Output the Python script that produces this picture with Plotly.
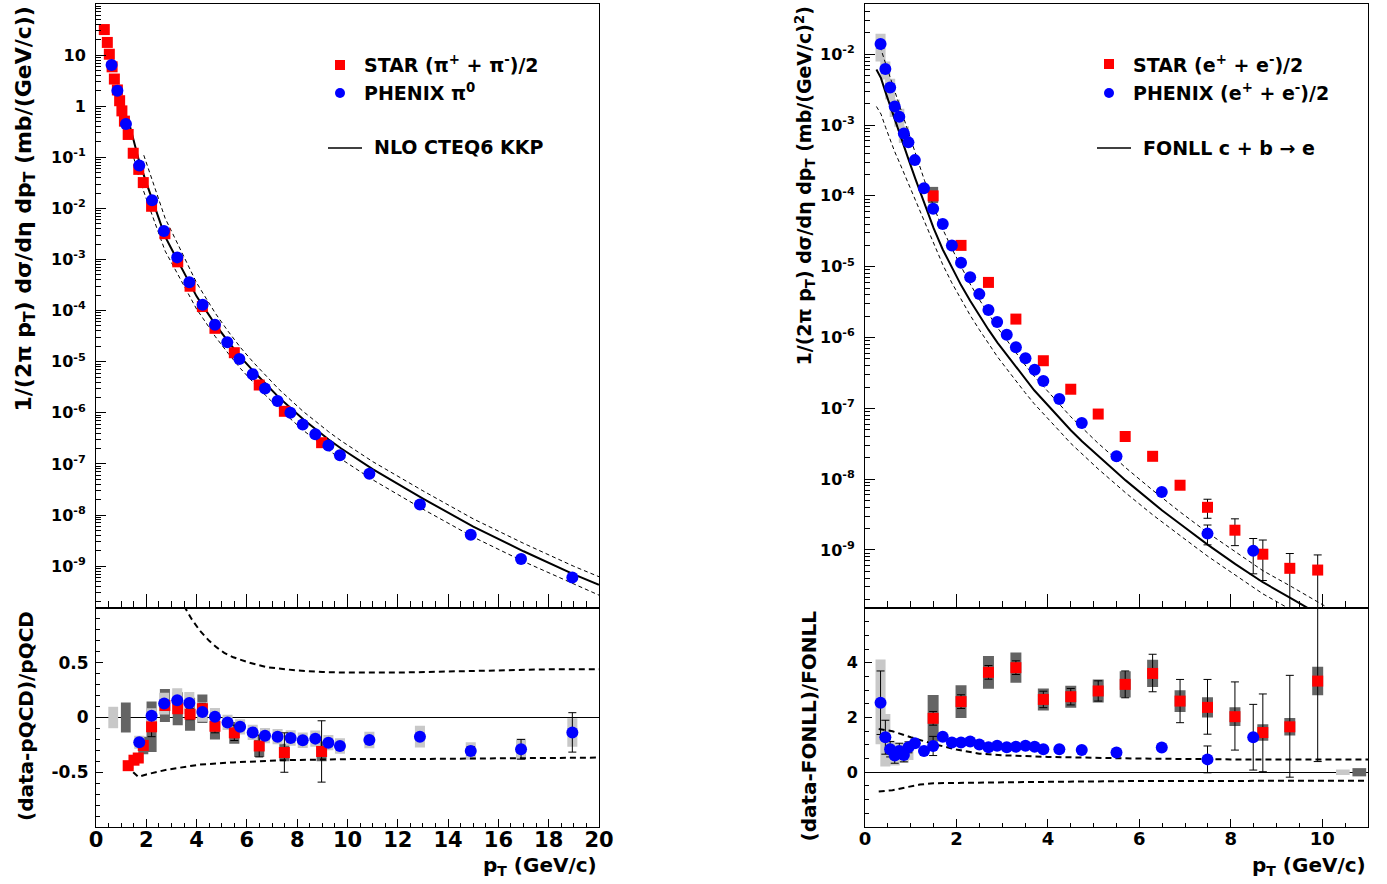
import plotly.graph_objects as go

# ================= DATA =================
# ---- Left: pions ----
star_pi_pt = [0.33, 0.45, 0.53, 0.64, 0.73, 0.85, 0.94, 1.03, 1.13, 1.28, 1.48, 1.70, 1.88, 2.21,
              2.74, 3.25, 3.74, 4.23, 4.73, 5.50, 6.49, 7.49, 8.97]
star_pi_y = [31.6, 17.7, 10.4, 5.9, 3.4, 2.08, 1.28, 0.81, 0.51, 0.28, 0.12, 0.058, 0.032, 0.011,
             3.2e-3, 9.0e-4, 3.0e-4, 1.2e-4, 4.5e-5, 1.5e-5, 3.5e-6, 1.07e-6, 2.6e-7]

phenix_pi_pt = [0.62, 0.85, 1.19, 1.72, 2.23, 2.70, 3.23, 3.71, 4.24, 4.73, 5.22, 5.70, 6.23, 6.72,
                7.22, 7.73, 8.22, 8.72, 9.24, 9.70, 10.87, 12.88, 14.90, 16.90, 18.94]
phenix_pi_y = [6.4, 2.0, 0.45, 0.069, 0.0145, 3.6e-3, 1.1e-3, 3.6e-4, 1.3e-4, 5.3e-5, 2.4e-5,
               1.13e-5, 5.7e-6, 3.0e-6, 1.7e-6, 1.0e-6, 5.9e-7, 3.8e-7, 2.3e-7, 1.48e-7, 6.4e-8,
               1.6e-8, 4.1e-9, 1.37e-9, 6.0e-10]

nlo_pt = [1.3, 1.5, 1.7, 2.0, 2.25, 2.5, 2.75, 3.0, 3.25, 3.5, 3.75, 4.0, 4.25, 4.75, 5.25, 5.75,
          6.25, 6.75, 7.25, 7.75, 8.25, 8.75, 9.25, 9.75, 11, 13, 15, 17, 19, 20]
nlo_y = [5.0e-1, 1.97e-1, 8.9e-2, 3.2e-2, 1.4e-2, 6.5e-3, 2.8e-3, 1.62e-3, 9.5e-4, 5.4e-4, 3.2e-4,
         1.9e-4, 1.24e-4, 5.3e-5, 2.5e-5, 1.23e-5, 6.6e-6, 3.6e-6, 2.05e-6, 1.23e-6, 7.4e-7, 4.7e-7,
         3.0e-7, 2.0e-7, 7.9e-8, 2.1e-8, 5.9e-9, 1.95e-9, 6.9e-10, 4.3e-10]
nlo_up_pt = [1.9, 2.25, 2.5, 2.75, 3.0, 3.25, 3.5, 3.75, 4.0, 4.25, 4.75, 5.25, 5.75, 6.25, 6.75,
             7.25, 7.75, 8.25, 8.75, 9.25, 9.75, 11, 13, 15, 17, 19, 20]
nlo_up_y = [1.1e-1, 3.5e-2, 1.5e-2, 6.4e-3, 3.6e-3, 2.0e-3, 1.09e-3, 6.1e-4, 3.5e-4, 2.2e-4, 8.8e-5,
            3.95e-5, 1.88e-5, 9.8e-6, 5.3e-6, 2.96e-6, 1.76e-6, 1.05e-6, 6.7e-7, 4.25e-7, 2.82e-7,
            1.11e-7, 2.97e-8, 8.4e-9, 2.79e-9, 9.9e-10, 6.2e-10]
nlo_lo_pt = [1.5, 1.7, 2.0, 2.25, 2.5, 2.75, 3.0, 3.25, 3.5, 3.75, 4.0, 4.25, 4.75, 5.25, 5.75, 6.25,
             6.75, 7.25, 7.75, 8.25, 8.75, 9.25, 9.75, 11, 13, 15, 17, 19, 20]
nlo_lo_y = [9.9e-2, 4.1e-2, 1.54e-2, 6.9e-3, 3.3e-3, 1.46e-3, 8.7e-4, 5.2e-4, 3.0e-4, 1.79e-4, 1.07e-4,
            7.1e-5, 3.07e-5, 1.47e-5, 7.3e-6, 3.96e-6, 2.17e-6, 1.25e-6, 7.5e-7, 4.5e-7, 2.9e-7,
            1.85e-7, 1.24e-7, 4.9e-8, 1.3e-8, 3.7e-9, 1.23e-9, 4.4e-10, 2.7e-10]

# ratio (data-pQCD)/pQCD
star_pi_r_pt = [1.28, 1.51, 1.68, 1.88, 2.21, 2.74, 3.25, 3.74, 4.23, 4.73, 5.50, 6.49, 7.49, 8.97]
star_pi_r = [-0.44, -0.39, -0.37, -0.255, -0.085, 0.11, 0.08, 0.03, 0.08, -0.08, -0.14, -0.26, -0.32, -0.31]
star_pi_r_sys = [0.03, 0.03, 0.04, 0.08, 0.23, 0.15, 0.15, 0.15, 0.13, 0.12, 0.10, 0.10, 0.08, 0.09]
star_pi_r_stat = [0.02, 0.02, 0.02, 0.03, 0.09, 0.04, 0.04, 0.05, 0.05, 0.06, 0.07, 0.10, 0.18, 0.28]

phenix_pi_r_pt = [1.72, 2.21, 2.71, 3.23, 3.71, 4.23, 4.73, 5.23, 5.73, 6.23, 6.72, 7.22, 7.74, 8.22,
                  8.72, 9.24, 9.70, 10.87, 12.88, 14.90, 16.90, 18.94]
phenix_pi_r = [-0.226, 0.015, 0.127, 0.157, 0.132, 0.051, 0.006, -0.045, -0.085, -0.136, -0.166,
               -0.175, -0.187, -0.208, -0.193, -0.23, -0.26, -0.205, -0.175, -0.305, -0.29, -0.136]
phenix_pi_r_sys = [0.06, 0.07, 0.10, 0.11, 0.10, 0.09, 0.08, 0.07, 0.07, 0.07, 0.07, 0.07, 0.07, 0.07,
                   0.075, 0.07, 0.07, 0.075, 0.10, 0.08, 0.095, 0.13]
phenix_pi_r_stat = [0.01, 0.01, 0.01, 0.01, 0.01, 0.01, 0.01, 0.01, 0.01, 0.01, 0.01, 0.01, 0.01, 0.01,
                    0.01, 0.01, 0.01, 0.02, 0.03, 0.04, 0.09, 0.18]

pi_band_up_pt = [3.3, 3.54, 3.8, 4.14, 4.5, 4.8, 5.1, 5.46, 6.1, 6.79, 7.95, 9.0, 10.1, 12, 14, 16, 18, 20]
pi_band_up_r = [1.1, 1.0, 0.9, 0.79, 0.70, 0.64, 0.59, 0.55, 0.50, 0.46, 0.43, 0.415, 0.41, 0.41, 0.42, 0.43, 0.44, 0.44]
pi_band_lo_pt = [1.48, 1.68, 2.0, 2.81, 4.13, 5.46, 7.45, 10.1, 12.1, 16, 20]
pi_band_lo_r = [-0.50, -0.543, -0.52, -0.477, -0.43, -0.41, -0.39, -0.38, -0.38, -0.37, -0.366]

pi_norm_x = [0.685, 1.185]
pi_norm_h = [0.098, 0.137]

# ---- Right: electrons ----
star_e_pt = [1.49, 2.10, 2.70, 3.30, 3.90, 4.50, 5.10, 5.69, 6.29, 6.89, 7.49, 8.09, 8.70, 9.29, 9.90]
star_e_y = [1.0e-4, 2.0e-5, 6.0e-6, 1.82e-6, 4.7e-7, 1.86e-7, 8.3e-8, 4.0e-8, 2.1e-8, 8.2e-9, 4.0e-9,
            1.9e-9, 8.7e-10, 5.5e-10, 5.2e-10]
star_e_err_p = [0, 0, 0, 0, 0, 0, 0, 0, 0, 0, 1.2e-9, 0.85e-9, 5.1e-10, 3.4e-10, 3.3e-10]
star_e_err_m = [0, 0, 0, 0, 0, 0, 0, 0, 0, 0, 1.2e-9, 0.75e-9, 5.0e-10, 4.0e-10, 5.15e-10]
star_e_r = [1.97, 2.58, 3.65, 3.82, 2.66, 2.76, 2.97, 3.21, 3.61, 2.60, 2.37, 2.03, 1.45, 1.66, 3.33]
star_e_r_sys = [0.85, 0.6, 0.6, 0.55, 0.4, 0.4, 0.42, 0.48, 0.5, 0.4, 0.37, 0.34, 0.3, 0.32, 0.52]
star_e_r_sp = [0.25, 0.25, 0.25, 0.25, 0.3, 0.3, 0.37, 0.49, 0.70, 0.79, 1.02, 1.27, 1.41, 1.88, 4.0]
star_e_r_sm = [0.25, 0.25, 0.25, 0.25, 0.3, 0.3, 0.37, 0.49, 0.67, 0.79, 0.98, 1.22, 1.43, 1.84, 2.94]
star_e_box_lo = [7.9e-5]
star_e_box_hi = [1.34e-4]

phenix_e_pt = [0.34, 0.445, 0.55, 0.65, 0.75, 0.85, 0.95, 1.09, 1.29, 1.49, 1.70, 1.90, 2.10, 2.30,
               2.50, 2.70, 2.89, 3.10, 3.30, 3.51, 3.71, 3.90, 4.25, 4.74, 5.50, 6.49, 7.49, 8.49]
phenix_e_y = [1.395e-2, 6.2e-3, 3.4e-3, 1.83e-3, 1.31e-3, 7.6e-4, 5.7e-4, 3.2e-4, 1.28e-4, 6.6e-5,
              4.0e-5, 2.0e-5, 1.14e-5, 7.1e-6, 4.1e-6, 2.45e-6, 1.65e-6, 1.09e-6, 7.3e-7, 5.1e-7,
              3.5e-7, 2.44e-7, 1.35e-7, 6.2e-8, 2.1e-8, 6.6e-9, 1.7e-9, 9.7e-10]
phenix_e_err_p = [0] * 26 + [5.5e-10, 4.8e-10]
phenix_e_err_m = [0] * 26 + [5.2e-10, 5.1e-10]
phenix_e_r = [2.54, 1.28, 0.84, 0.61, 0.78, 0.63, 0.91, 1.06, 0.78, 0.96, 1.30, 1.09, 1.09, 1.12,
              1.01, 0.91, 0.97, 0.91, 0.93, 0.97, 0.93, 0.84, 0.84, 0.81, 0.72, 0.90, 0.47, 1.28]
phenix_e_r_stat = [1.16, 0.62, 0.28, 0.28, 0.28, 0.25, 0.2, 0.1, 0.1, 0.35, 0.05, 0.05, 0.05, 0.05,
                   0.05, 0.05, 0.05, 0.05, 0.05, 0.05, 0.05, 0.05, 0.05, 0.05, 0.05, 0.05, 0.49, 1.2]
phenix_e_box_pt = [0.34, 0.445, 0.55, 0.65, 0.75, 0.85]
phenix_e_box_lo = [7.9e-3, 4.4e-3, 2.3e-3, 1.3e-3, 0.95e-3, 5.6e-4]
phenix_e_box_hi = [1.95e-2, 7.9e-3, 4.5e-3, 2.3e-3, 1.7e-3, 9.6e-4]
phenix_e_rbox_pt = [0.34, 0.445, 0.55, 0.65, 0.75, 0.85, 0.95]
phenix_e_rbox_c = [2.57, 1.17, 0.70, 0.65, 0.70, 0.65, 0.75]
phenix_e_rbox_h = [1.55, 0.96, 0.45, 0.40, 0.35, 0.30, 0.30]

fonll_pt = [0.25, 0.35, 0.45, 0.55, 0.65, 0.75, 0.85, 0.95, 1.1, 1.3, 1.5, 1.7, 1.9, 2.1, 2.3, 2.5,
            2.7, 2.9, 3.1, 3.3, 3.5, 3.7, 3.9, 4.25, 4.5, 4.75, 5.1, 5.5, 5.7, 6.3, 6.5, 6.9, 7.5,
            8.1, 8.5, 8.7, 9.3, 9.9, 10.5]
fonll_y = [6.1e-3, 4.6e-3, 2.9e-3, 1.85e-3, 1.2e-3, 7.8e-4, 5.0e-4, 3.3e-4, 1.75e-4, 7.8e-5, 3.5e-5,
           1.75e-5, 9.6e-6, 5.5e-6, 3.3e-6, 2.05e-6, 1.29e-6, 8.4e-7, 5.7e-7, 3.8e-7, 2.6e-7, 1.8e-7,
           1.3e-7, 7.3e-8, 4.9e-8, 3.4e-8, 2.1e-8, 1.25e-8, 9.6e-9, 4.6e-9, 3.6e-9, 2.3e-9, 1.18e-9,
           6.3e-10, 4.2e-10, 3.5e-10, 2.1e-10, 1.25e-10, 7.5e-11]
fonll_up_y = [1.57e-2, 1.18e-2, 7.4e-3, 4.7e-3, 3.0e-3, 1.9e-3, 1.19e-3, 7.6e-4, 3.9e-4, 1.66e-4,
              7.1e-5, 3.4e-5, 1.8e-5, 9.9e-6, 5.7e-6, 3.44e-6, 2.13e-6, 1.37e-6, 9.2e-7, 6.1e-7,
              4.1e-7, 2.84e-7, 2.03e-7, 1.14e-7, 7.6e-8, 5.3e-8, 3.2e-8, 1.9e-8, 1.45e-8, 6.9e-9,
              5.4e-9, 3.4e-9, 1.74e-9, 9.3e-10, 6.2e-10, 5.1e-10, 3.1e-10, 1.84e-10, 1.1e-10]
fonll_lo_y = [1.83e-3, 1.43e-3, 9.3e-4, 6.1e-4, 4.2e-4, 3.0e-4, 2.1e-4, 1.53e-4, 9.1e-5, 4.4e-5,
              2.1e-5, 1.07e-5, 5.9e-6, 3.4e-6, 2.06e-6, 1.29e-6, 8.2e-7, 5.3e-7, 3.6e-7, 2.43e-7,
              1.67e-7, 1.16e-7, 8.5e-8, 4.8e-8, 3.2e-8, 2.24e-8, 1.39e-8, 8.3e-9, 6.4e-9, 3.1e-9,
              2.46e-9, 1.58e-9, 8.1e-10, 4.35e-10, 2.9e-10, 2.4e-10, 1.45e-10, 8.6e-11, 5.2e-11]

e_band_up_pt = [0.3, 0.6, 1.0, 1.5, 2.0, 2.5, 3.0, 4.0, 5.0, 6.0, 8.0, 11.0]
e_band_up_r = [1.58, 1.50, 1.28, 1.03, 0.83, 0.68, 0.62, 0.56, 0.53, 0.50, 0.47, 0.47]
e_band_lo_pt = [0.3, 0.6, 0.9, 1.2, 1.5, 2.5, 4.0, 6.0, 8.0, 11.0]
e_band_lo_r = [-0.70, -0.66, -0.55, -0.45, -0.40, -0.37, -0.35, -0.32, -0.31, -0.31]

e_norm_x = [10.45, 10.81]
e_norm_h = [0.10, 0.15]

# ================= STYLE =================
FONT = "DejaVu Sans"
RED = "#ff0000"
BLUE = "#0000ff"
LGRAY = "#c8c8c8"
DGRAY = "#646464"
W, H = 1387, 884


def px(x):
    return x / W


def py(y):
    return 1 - y / H


def box_poly(xc, lo, hi, hw):
    xs, ys = [], []
    for x, a, b in zip(xc, lo, hi):
        xs += [x - hw, x + hw, x + hw, x - hw, x - hw, None]
        ys += [a, a, b, b, a, None]
    return xs, ys


def box_trace(xc, lo, hi, hw, color, xa, ya):
    xs, ys = box_poly(xc, lo, hi, hw)
    return go.Scatter(x=xs, y=ys, mode="lines", fill="toself", fillcolor=color,
                      line=dict(width=0, color=color), xaxis=xa, yaxis=ya,
                      hoverinfo="skip", showlegend=False)


fig = go.Figure()

# ---------- Left top ----------
fig.add_trace(go.Scatter(x=nlo_pt, y=nlo_y, mode="lines", line=dict(color="black", width=2),
                         xaxis="x", yaxis="y", showlegend=False))
fig.add_trace(go.Scatter(x=nlo_up_pt, y=nlo_up_y, mode="lines",
                         line=dict(color="black", width=1, dash="4px,3px"), xaxis="x", yaxis="y", showlegend=False))
fig.add_trace(go.Scatter(x=nlo_lo_pt, y=nlo_lo_y, mode="lines",
                         line=dict(color="black", width=1, dash="4px,3px"), xaxis="x", yaxis="y", showlegend=False))
fig.add_trace(go.Scatter(x=star_pi_pt, y=star_pi_y, mode="markers",
                         marker=dict(symbol="square", size=11, color=RED), xaxis="x", yaxis="y", showlegend=False))
fig.add_trace(go.Scatter(x=phenix_pi_pt, y=phenix_pi_y, mode="markers",
                         marker=dict(symbol="circle", size=12, color=BLUE), xaxis="x", yaxis="y", showlegend=False))

# ---------- Left bottom ----------
fig.add_trace(box_trace(pi_norm_x[:1], [-pi_norm_h[0]], [pi_norm_h[0]], 0.195, LGRAY, "x2", "y2"))
fig.add_trace(box_trace(pi_norm_x[1:], [-pi_norm_h[1]], [pi_norm_h[1]], 0.195, DGRAY, "x2", "y2"))
fig.add_trace(box_trace(star_pi_r_pt, [v - s for v, s in zip(star_pi_r, star_pi_r_sys)],
                        [v + s for v, s in zip(star_pi_r, star_pi_r_sys)], 0.2, DGRAY, "x2", "y2"))
fig.add_trace(box_trace(phenix_pi_r_pt, [v - s for v, s in zip(phenix_pi_r, phenix_pi_r_sys)],
                        [v + s for v, s in zip(phenix_pi_r, phenix_pi_r_sys)], 0.2, LGRAY, "x2", "y2"))
fig.add_trace(go.Scatter(x=pi_band_up_pt, y=pi_band_up_r, mode="lines",
                         line=dict(color="black", width=2, dash="6px,4px"), xaxis="x2", yaxis="y2", showlegend=False))
fig.add_trace(go.Scatter(x=pi_band_lo_pt, y=pi_band_lo_r, mode="lines",
                         line=dict(color="black", width=2, dash="6px,4px"), xaxis="x2", yaxis="y2", showlegend=False))
fig.add_trace(go.Scatter(x=star_pi_r_pt, y=star_pi_r, mode="markers",
                         error_y=dict(type="data", array=star_pi_r_stat, color="black", thickness=1, width=4),
                         marker=dict(symbol="square", size=11, color=RED), xaxis="x2", yaxis="y2", showlegend=False))
fig.add_trace(go.Scatter(x=phenix_pi_r_pt, y=phenix_pi_r, mode="markers",
                         error_y=dict(type="data", array=phenix_pi_r_stat, color="black", thickness=1, width=4),
                         marker=dict(symbol="circle", size=12, color=BLUE), xaxis="x2", yaxis="y2", showlegend=False))

# ---------- Right top ----------
fig.add_trace(box_trace(phenix_e_box_pt, phenix_e_box_lo, phenix_e_box_hi, 0.11, LGRAY, "x3", "y3"))
fig.add_trace(box_trace(star_e_pt[:1], star_e_box_lo, star_e_box_hi, 0.11, DGRAY, "x3", "y3"))
fig.add_trace(go.Scatter(x=fonll_pt, y=fonll_y, mode="lines", line=dict(color="black", width=2),
                         xaxis="x3", yaxis="y3", showlegend=False))
fig.add_trace(go.Scatter(x=fonll_pt, y=fonll_up_y, mode="lines",
                         line=dict(color="black", width=1, dash="4px,3px"), xaxis="x3", yaxis="y3", showlegend=False))
fig.add_trace(go.Scatter(x=fonll_pt, y=fonll_lo_y, mode="lines",
                         line=dict(color="black", width=1, dash="4px,3px"), xaxis="x3", yaxis="y3", showlegend=False))
fig.add_trace(go.Scatter(x=star_e_pt, y=star_e_y, mode="markers",
                         error_y=dict(type="data", array=star_e_err_p, arrayminus=star_e_err_m,
                                      color="black", thickness=1, width=4),
                         marker=dict(symbol="square", size=11, color=RED), xaxis="x3", yaxis="y3", showlegend=False))
fig.add_trace(go.Scatter(x=phenix_e_pt, y=phenix_e_y, mode="markers",
                         error_y=dict(type="data", array=phenix_e_err_p, arrayminus=phenix_e_err_m,
                                      color="black", thickness=1, width=4),
                         marker=dict(symbol="circle", size=12, color=BLUE), xaxis="x3", yaxis="y3", showlegend=False))

# ---------- Right bottom ----------
fig.add_trace(box_trace(phenix_e_rbox_pt, [c - h for c, h in zip(phenix_e_rbox_c, phenix_e_rbox_h)],
                        [c + h for c, h in zip(phenix_e_rbox_c, phenix_e_rbox_h)], 0.11, LGRAY, "x4", "y4"))
fig.add_trace(box_trace(star_e_pt, [v - s for v, s in zip(star_e_r, star_e_r_sys)],
                        [v + s for v, s in zip(star_e_r, star_e_r_sys)], 0.12, DGRAY, "x4", "y4"))
fig.add_trace(box_trace(e_norm_x[:1], [-e_norm_h[0]], [e_norm_h[0]], 0.15, LGRAY, "x4", "y4"))
fig.add_trace(box_trace(e_norm_x[1:], [-e_norm_h[1]], [e_norm_h[1]], 0.15, DGRAY, "x4", "y4"))
fig.add_trace(go.Scatter(x=e_band_up_pt, y=e_band_up_r, mode="lines",
                         line=dict(color="black", width=2, dash="6px,4px"), xaxis="x4", yaxis="y4", showlegend=False))
fig.add_trace(go.Scatter(x=e_band_lo_pt, y=e_band_lo_r, mode="lines",
                         line=dict(color="black", width=2, dash="6px,4px"), xaxis="x4", yaxis="y4", showlegend=False))
fig.add_trace(go.Scatter(x=star_e_pt, y=star_e_r, mode="markers",
                         error_y=dict(type="data", array=star_e_r_sp, arrayminus=star_e_r_sm,
                                      color="black", thickness=1, width=4),
                         marker=dict(symbol="square", size=11, color=RED), xaxis="x4", yaxis="y4", showlegend=False))
fig.add_trace(go.Scatter(x=phenix_e_pt, y=phenix_e_r, mode="markers",
                         error_y=dict(type="data", array=phenix_e_r_stat, color="black", thickness=1, width=4),
                         marker=dict(symbol="circle", size=12, color=BLUE), xaxis="x4", yaxis="y4", showlegend=False))

# ================= AXES =================
xL = [px(96), px(599)]
xR = [px(865), px(1368)]
yT = [py(608), py(4)]
yB = [py(827), py(608)]


def axis(**kw):
    d = dict(showline=True, linecolor="black", linewidth=1, mirror=True, ticks="inside",
             tickcolor="black", tickwidth=1, showgrid=False, zeroline=False, automargin=False,
             tickfont=dict(family=FONT, size=16, color="black", weight="bold"))
    d.update(kw)
    return d


log_pi_vals = [1e-9, 1e-8, 1e-7, 1e-6, 1e-5, 1e-4, 1e-3, 1e-2, 1e-1, 1, 10]
log_pi_text = ["10<sup>-9</sup>", "10<sup>-8</sup>", "10<sup>-7</sup>", "10<sup>-6</sup>", "10<sup>-5</sup>",
               "10<sup>-4</sup>", "10<sup>-3</sup>", "10<sup>-2</sup>", "10<sup>-1</sup>", "1", "10"]
log_e_vals = [1e-9, 1e-8, 1e-7, 1e-6, 1e-5, 1e-4, 1e-3, 1e-2]
log_e_text = ["10<sup>-9</sup>", "10<sup>-8</sup>", "10<sup>-7</sup>", "10<sup>-6</sup>", "10<sup>-5</sup>",
              "10<sup>-4</sup>", "10<sup>-3</sup>", "10<sup>-2</sup>"]

minor_x = dict(ticks="inside", dtick=0.5, tick0=0, ticklen=7, tickcolor="black", showgrid=False)
minor_xb = dict(ticks="inside", dtick=0.5, tick0=0, ticklen=4, tickcolor="black", showgrid=False)
minor_log = dict(ticks="inside", dtick="D1", ticklen=5, tickcolor="black", showgrid=False)

fig.update_layout(
    template="none",
    width=W, height=H, margin=dict(l=0, r=0, t=0, b=0, pad=0), autosize=False,
    paper_bgcolor="white", plot_bgcolor="white", showlegend=False,
    xaxis=axis(domain=xL, anchor="y", range=[0, 20], dtick=2, tick0=0, ticklen=14,
               showticklabels=False, minor=minor_x),
    yaxis=axis(domain=yT, anchor="x", type="log", range=[-9.82, 2.0], tickmode="array",
               tickvals=log_pi_vals, ticktext=log_pi_text, ticklen=10, minor=minor_log,
               ticklabelstandoff=6),
    xaxis2=axis(domain=xL, anchor="y2", range=[0, 20], dtick=2, tick0=0, ticklen=8,
                minor=minor_xb, tickfont=dict(family=FONT, size=21, color="black", weight="bold"),
                ticklabelstandoff=-6),
    yaxis2=axis(domain=yB, anchor="x2", range=[-1, 1], tickmode="array", tickvals=[-0.5, 0, 0.5],
                ticktext=["-0.5", "0", "0.5"], ticklen=7,
                minor=dict(ticks="inside", dtick=0.1, tick0=0, ticklen=4, tickcolor="black", showgrid=False),
                zeroline=True, zerolinecolor="black", zerolinewidth=1,
                tickfont=dict(family=FONT, size=17, color="black", weight="bold"), ticklabelstandoff=3),
    xaxis3=axis(domain=xR, anchor="y3", range=[0, 11], dtick=2, tick0=0, ticklen=14,
                showticklabels=False, minor=minor_x),
    yaxis3=axis(domain=yT, anchor="x3", type="log", range=[-9.82, -1.29], tickmode="array",
                tickvals=log_e_vals, ticktext=log_e_text, ticklen=10, minor=minor_log,
                ticklabelstandoff=6),
    xaxis4=axis(domain=xR, anchor="y4", range=[0, 11], dtick=2, tick0=0, ticklen=8,
                minor=minor_xb, tickfont=dict(family=FONT, size=18, color="black", weight="bold"),
                ticklabelstandoff=-5),
    yaxis4=axis(domain=yB, anchor="x4", range=[-2, 6], tickmode="array", tickvals=[0, 2, 4],
                ticktext=["0", "2", "4"], ticklen=7,
                minor=dict(ticks="inside", dtick=0.5, tick0=0, ticklen=4, tickcolor="black", showgrid=False),
                zeroline=True, zerolinecolor="black", zerolinewidth=1,
                tickfont=dict(family=FONT, size=16, color="black", weight="bold"), ticklabelstandoff=3),
)

# ================= TEXT =================
def ann(text, x, y, size, xanchor="left", yanchor="middle", angle=0):
    fig.add_annotation(text=text, x=px(x), y=py(y), xref="paper", yref="paper", showarrow=False,
                       xanchor=xanchor, yanchor=yanchor, textangle=angle,
                       font=dict(family=FONT, size=size, color="black", weight="bold"))


# axis titles
ann("1/(2π p<sub>T</sub>) dσ/dη dp<sub>T</sub> (mb/(GeV/c))", 25, 5, 22, "center", "top", -90)
ann("(data-pQCD)/pQCD", 26, 609, 20, "center", "top", -90)
ann("1/(2π p<sub>T</sub>) dσ/dη dp<sub>T</sub> (mb/(GeV/c)<sup>2</sup>)", 805, 5, 19, "center", "top", -90)
ann("(data-FONLL)/FONLL", 808, 609, 20, "center", "top", -90)
ann("p<sub>T</sub> (GeV/c)", 599, 866, 20, "right", "middle")
ann("p<sub>T</sub> (GeV/c)", 1368, 866, 20, "right", "middle")

# legends
ann("STAR (π<sup>+</sup> + π<sup>-</sup>)/2", 362, 64, 19)
ann("PHENIX π<sup>0</sup>", 362, 92, 19)
ann("NLO CTEQ6 KKP", 372, 147, 19)
ann("STAR (e<sup>+</sup> + e<sup>-</sup>)/2", 1131, 64, 19)
ann("PHENIX (e<sup>+</sup> + e<sup>-</sup>)/2", 1131, 92, 19)
ann("FONLL c + b → e", 1141, 148, 19)

shapes = [
    dict(type="rect", x0=px(335), x1=px(345), y0=py(70), y1=py(60), fillcolor=RED, line=dict(width=0)),
    dict(type="circle", x0=px(335), x1=px(345), y0=py(98), y1=py(88), fillcolor=BLUE, line=dict(width=0)),
    dict(type="line", x0=px(328), x1=px(362), y0=py(148), y1=py(148), line=dict(color="black", width=1.5)),
    dict(type="rect", x0=px(1104), x1=px(1114), y0=py(69), y1=py(59), fillcolor=RED, line=dict(width=0)),
    dict(type="circle", x0=px(1104), x1=px(1114), y0=py(98), y1=py(88), fillcolor=BLUE, line=dict(width=0)),
    dict(type="line", x0=px(1097), x1=px(1131), y0=py(148), y1=py(148), line=dict(color="black", width=1.5)),
]
for s in shapes:
    s.update(xref="paper", yref="paper")
    fig.add_shape(**s)

fig.write_html("out.html", config={"displayModeBar": False},
               post_script="document.body.style.margin='0';document.body.style.overflow='hidden';")
